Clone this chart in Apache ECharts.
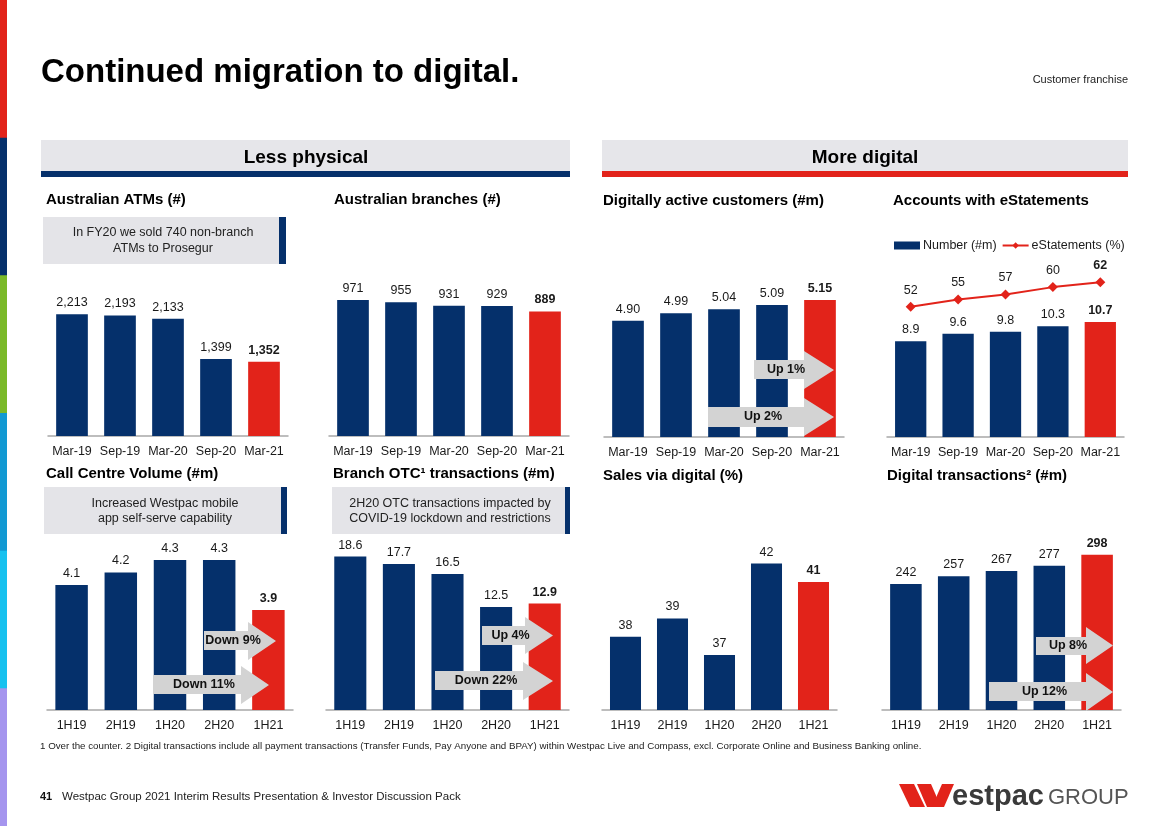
<!DOCTYPE html>
<html><head><meta charset="utf-8">
<script src="https://cdn.jsdelivr.net/npm/echarts@6/dist/echarts.min.js"></script>
<style>html,body{margin:0;padding:0;background:#fff}#c{width:1168px;height:826px}</style>
</head><body><div id="c"></div>
<script>
// ---------- DATA ----------
const periods = ['Mar-19','Sep-19','Mar-20','Sep-20','Mar-21'];
const halfYears = ['1H19','2H19','1H20','2H20','1H21'];
const atms = [2213, 2193, 2133, 1399, 1352];
const branches = [971, 955, 931, 929, 889];
const digitalCustomers = [4.90, 4.99, 5.04, 5.09, 5.15];
const eStatementAccounts = [8.9, 9.6, 9.8, 10.3, 10.7];
const eStatementPct = [52, 55, 57, 60, 62];
const callCentre = [4.1, 4.2, 4.3, 4.3, 3.9];
const branchOTC = [18.6, 17.7, 16.5, 12.5, 12.9];
const salesDigital = [38, 39, 37, 42, 41];
const digitalTx = [242, 257, 267, 277, 298];

// ---------- STYLE ----------
const NAVY = '#05306b', RED = '#e2231a', BOX = '#e4e4e8', ARROW = '#d3d3d3', INK = '#1a1a1a';
const FONT = '"Liberation Sans", Arial, Helvetica, sans-serif';

const panels = [
  {cats: periods,   values: atms,               fmt: v => v.toLocaleString('en-US'), min: 0,   max: 3000, left: 48,  width: 240, top: 271, height: 165},
  {cats: periods,   values: branches,           fmt: v => String(v),   min: 0,   max: 1100, left: 329, width: 240, top: 282, height: 154},
  {cats: periods,   values: digitalCustomers,   fmt: v => v.toFixed(2), min: 3.5, max: 5.5,  left: 604, width: 240, top: 271, height: 166},
  {cats: periods,   values: eStatementAccounts, fmt: v => v.toFixed(1), min: 0,   max: 16,   left: 887, width: 237, top: 265, height: 172, name: 'Number (#m)'},
  {cats: halfYears, values: callCentre,         fmt: v => v.toFixed(1), min: 3.1, max: 4.5,  left: 47,  width: 246, top: 535, height: 175},
  {cats: halfYears, values: branchOTC,          fmt: v => v.toFixed(1), min: 0,   max: 20,   left: 326, width: 243, top: 545, height: 165},
  {cats: halfYears, values: salesDigital,       fmt: v => String(v),   min: 34,  max: 44,   left: 602, width: 235, top: 527, height: 183},
  {cats: halfYears, values: digitalTx,          fmt: v => String(v),   min: 0,   max: 340,  left: 882, width: 239, top: 533, height: 177}
];

function items(values, highlightColor) {
  const last = values.length - 1;
  return values.map((v, i) => i === last
    ? {value: v, itemStyle: highlightColor ? {color: highlightColor} : undefined, label: {fontWeight: 'bold'}}
    : v);
}

const grid = [], xAxis = [], yAxis = [], series = [];
panels.forEach((p, i) => {
  grid.push({left: p.left, top: p.top, width: p.width, height: p.height, containLabel: false});
  xAxis.push({
    type: 'category', gridIndex: i, data: p.cats,
    axisTick: {show: false},
    axisLine: {lineStyle: {color: '#a8a8a8', width: 1.5}},
    axisLabel: {color: INK, fontSize: 12.5, fontFamily: FONT, margin: 9, interval: 0, hideOverlap: false}
  });
  yAxis.push({type: 'value', gridIndex: i, min: p.min, max: p.max, show: false, splitLine: {show: false}});
  series.push({
    type: 'bar', name: p.name || ('s' + i), xAxisIndex: i, yAxisIndex: i,
    data: items(p.values, RED), barWidth: '66%', itemStyle: {color: NAVY},
    label: {show: true, position: 'top', distance: 5, color: INK, fontSize: 12.5, fontFamily: FONT,
            formatter: (q) => p.fmt(q.value)},
    z: 2
  });
});
// secondary axis for eStatements (%)
yAxis.push({type: 'value', gridIndex: 3, min: -1, max: 69, show: false, splitLine: {show: false}});
series.push({
  type: 'line', name: 'eStatements (%)', xAxisIndex: 3, yAxisIndex: 8,
  data: items(eStatementPct, null),
  symbol: 'diamond', symbolSize: 10, color: RED,
  lineStyle: {color: RED, width: 2}, itemStyle: {color: RED},
  label: {show: true, position: 'top', distance: 5, color: INK, fontSize: 12.5, fontFamily: FONT},
  z: 5
});

// ---------- DECORATION ----------
const g = [];
function txt(text, x, y, font, opts) {
  opts = opts || {};
  g.push({type: 'text', z: 100, style: {
    text, x, y, font, fill: opts.fill || INK,
    textAlign: opts.align || 'left', align: opts.align || 'left',
    textVerticalAlign: 'middle', verticalAlign: 'middle'
  }});
}
function rect(x, y, w, h, fill, z) {
  g.push({type: 'rect', z: z || 90, shape: {x, y, width: w, height: h}, style: {fill}});
}
function arrow(label, x0, xh, xt, b0, b1, h0, h1) {
  const tip = (h0 + h1) / 2;
  g.push({type: 'polygon', z: 95, shape: {points: [[x0, b0], [xh, b0], [xh, h0], [xt, tip], [xh, h1], [xh, b1], [x0, b1]]},
          style: {fill: ARROW}});
  txt(label, (x0 + xh) / 2 + 7, (b0 + b1) / 2, 'bold 12.5px ' + FONT, {align: 'center', fill: '#111'});
}

// left colour stripe
const stripe = ['#e2231a', '#05306b', '#7ab929', '#1199d3', '#17c1ef', '#a595ee'];
stripe.forEach((c, i) => rect(0, i * 826 / 6, 7, 826 / 6 + 1, c, 80));

// page title
txt('Continued migration to digital.', 41, 73, 'bold 33px ' + FONT, {fill: '#000'});
txt('Customer franchise', 1128, 80, '11px ' + FONT, {align: 'right', fill: '#222'});

// section headers
rect(41, 140, 529, 31, '#e6e6ea');
rect(41, 171, 529, 6, NAVY);
txt('Less physical', 306, 158, 'bold 19px ' + FONT, {align: 'center', fill: '#000'});
rect(602, 140, 526, 31, '#e6e6ea');
rect(602, 171, 526, 6, RED);
txt('More digital', 865, 158, 'bold 19px ' + FONT, {align: 'center', fill: '#000'});

// chart titles
const TF = 'bold 15px ' + FONT;
txt('Australian ATMs (#)', 46, 200, TF, {fill: '#000'});
txt('Australian branches (#)', 334, 200, TF, {fill: '#000'});
txt('Digitally active customers (#m)', 603, 201, TF, {fill: '#000'});
txt('Accounts with eStatements', 893, 201, TF, {fill: '#000'});
txt('Call Centre Volume (#m)', 46, 474, TF, {fill: '#000'});
txt('Branch OTC\u00B9 transactions (#m)', 333, 474, TF, {fill: '#000'});
txt('Sales via digital (%)', 603, 476, TF, {fill: '#000'});
txt('Digital transactions\u00B2 (#m)', 887, 476, TF, {fill: '#000'});

// callouts
const CF = '12.5px ' + FONT;
rect(43, 217, 236, 47, BOX); rect(279, 217, 7, 47, NAVY);
txt('In FY20 we sold 740 non-branch', 163, 233, CF, {align: 'center', fill: '#222'});
txt('ATMs to Prosegur', 163, 249, CF, {align: 'center', fill: '#222'});
rect(44, 487, 237, 47, BOX); rect(281, 487, 6, 47, NAVY);
txt('Increased Westpac mobile', 165, 504, CF, {align: 'center', fill: '#222'});
txt('app self-serve capability', 165, 519, CF, {align: 'center', fill: '#222'});
rect(332, 487, 233, 47, BOX); rect(565, 487, 5, 47, NAVY);
txt('2H20 OTC transactions impacted by', 450, 504, CF, {align: 'center', fill: '#222'});
txt('COVID-19 lockdown and restrictions', 450, 519, CF, {align: 'center', fill: '#222'});

// change arrows
arrow('Up 1%', 754, 804, 834, 360, 379, 351, 389);
arrow('Up 2%', 708, 804, 834, 407, 427, 398, 436);
arrow('Down 9%', 204, 248, 276, 631, 650, 622, 660);
arrow('Down 11%', 153, 241, 269, 675, 694, 666, 704);
arrow('Up 4%', 482, 525, 553, 626, 645, 617, 654);
arrow('Down 22%', 435, 523, 553, 671, 690, 662, 700);
arrow('Up 8%', 1036, 1086, 1113, 637, 655, 627, 664);
arrow('Up 12%', 989, 1086, 1113, 682, 701, 673, 711);

// footnote & footer
txt('1 Over the counter. 2 Digital transactions include all payment transactions (Transfer Funds, Pay Anyone and BPAY) within Westpac Live and Compass, excl. Corporate Online and Business Banking online.',
    40, 746, '9.75px ' + FONT, {fill: '#222'});
txt('41', 40, 797, 'bold 11px ' + FONT, {fill: '#111'});
txt('Westpac Group 2021 Interim Results Presentation & Investor Discussion Pack', 62, 797, '11.5px ' + FONT, {fill: '#222'});

// logo
g.push({type: 'polygon', z: 95, shape: {points: [[899, 784], [914, 784], [925, 807], [910, 807]]}, style: {fill: RED}});
g.push({type: 'polygon', z: 95, shape: {points: [[917, 784], [931, 784], [941, 807], [927, 807]]}, style: {fill: RED}});
g.push({type: 'polygon', z: 95, shape: {points: [[932, 807], [942, 784], [954, 784], [944, 807]]}, style: {fill: RED}});
txt('estpac', 952, 797, 'bold 29px ' + FONT, {fill: '#3a3a3a'});
txt('GROUP', 1048, 798, '22px ' + FONT, {fill: '#555'});

const chart = echarts.init(document.getElementById('c'), null, {renderer: 'canvas'});
chart.setOption({
  animation: false,
  backgroundColor: '#fff',
  textStyle: {fontFamily: FONT},
  legend: {
    left: 889, top: 234, itemWidth: 26, itemHeight: 8, itemGap: 5,
    data: [{name: 'Number (#m)', icon: 'rect'}, {name: 'eStatements (%)'}],
    textStyle: {fontSize: 12.5, color: INK, fontFamily: FONT, padding: [0, 0, 0, -2]}
  },
  grid, xAxis, yAxis, series,
  graphic: {elements: g}
});
</script></body></html>
